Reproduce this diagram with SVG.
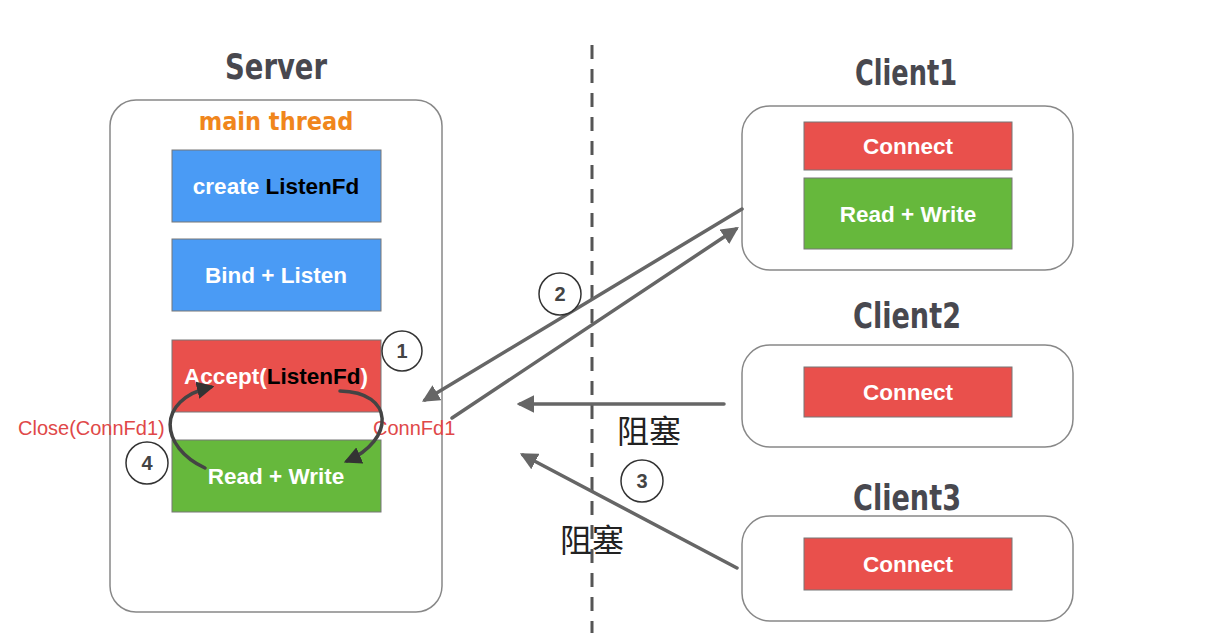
<svg xmlns="http://www.w3.org/2000/svg" width="1209" height="633" viewBox="0 0 1209 633">
<defs>
<marker id="ah" viewBox="0 0 10 10" refX="8" refY="5" markerWidth="5" markerHeight="5" orient="auto"><path d="M0,0 L10,5 L0,10 z" fill="#666"/></marker>
<marker id="ahd" viewBox="0 0 10 10" refX="8" refY="5" markerWidth="5" markerHeight="5" orient="auto"><path d="M0,0 L10,5 L0,10 z" fill="#333"/></marker>
<style>
.frame{fill:#fff;stroke:#888;stroke-width:1.5}
.title{font-family:"DejaVu Sans Condensed","DejaVu Sans",sans-serif;font-weight:bold;font-size:36px;fill:#48484f;text-anchor:middle}
.lbl{font-family:"Liberation Sans",Arial,sans-serif;font-weight:bold;font-size:22.5px;fill:#fff;text-anchor:middle}
.blue{fill:#4a9bf5;stroke:#777;stroke-width:1}
.red{fill:#e9504c;stroke:#777;stroke-width:1}
.green{fill:#66b83c;stroke:#777;stroke-width:1}
.num{fill:#fff;stroke:#333;stroke-width:1.5}
.numt{font-family:"Liberation Sans",Arial,sans-serif;font-weight:bold;font-size:20px;fill:#444;text-anchor:middle}
.conn{fill:none;stroke:#666;stroke-width:3.5;stroke-linecap:round}
.curve{fill:none;stroke:#444;stroke-width:3.5;stroke-linecap:round}
.redt{font-family:"Liberation Sans",Arial,sans-serif;font-size:20px;fill:#e04848}
.cn{font-family:"Noto Sans CJK SC",sans-serif;font-size:32px;fill:#222}
</style>
</defs>
<rect width="1209" height="633" fill="#fff"/>
<line x1="592" y1="45" x2="592" y2="633" stroke="#555" stroke-width="3" stroke-dasharray="14,10"/>

<g id="server">
<rect class="frame" x="110" y="100" width="332" height="512" rx="26"/>
<text class="title" x="276" y="79" textLength="102" lengthAdjust="spacingAndGlyphs">Server</text>
<text x="276" y="130" font-family="DejaVu Sans Condensed,DejaVu Sans,sans-serif" font-weight="bold" font-size="25" fill="#f0861c" text-anchor="middle">main thread</text>
</g>
<g id="create"><rect class="blue" x="172" y="150" width="209" height="72"/><text class="lbl" x="276" y="194">create <tspan fill="#000">ListenFd</tspan></text></g>
<g id="bind"><rect class="blue" x="172" y="239" width="209" height="72"/><text class="lbl" x="276" y="283">Bind + Listen</text></g>
<g id="accept"><rect class="red" x="172" y="340" width="209" height="72"/><text class="lbl" x="276" y="384">Accept(<tspan fill="#000">ListenFd</tspan>)</text></g>
<g id="rw"><rect class="green" x="172" y="440" width="209" height="72"/><text class="lbl" x="276" y="484">Read + Write</text></g>
<g id="n1"><circle class="num" cx="402" cy="351" r="20"/><text class="numt" x="402" y="358">1</text></g>
<g id="n4"><circle class="num" cx="147" cy="463" r="21"/><text class="numt" x="147" y="470">4</text></g>
<text class="redt" x="18" y="435">Close(ConnFd1)</text>
<text class="redt" x="373" y="435">ConnFd1</text>

<g id="client1">
<rect class="frame" x="742" y="106" width="331" height="164" rx="28"/>
<text class="title" x="906" y="85" textLength="102" lengthAdjust="spacingAndGlyphs">Client1</text>
<rect class="red" x="804" y="122" width="208" height="48"/><text class="lbl" x="908" y="154">Connect</text>
<rect class="green" x="804" y="178" width="208" height="71"/><text class="lbl" x="908" y="222">Read + Write</text>
</g>
<g id="client2">
<rect class="frame" x="742" y="345" width="331" height="102" rx="28"/>
<text class="title" x="907" y="328" textLength="108" lengthAdjust="spacingAndGlyphs">Client2</text>
<rect class="red" x="804" y="367" width="208" height="50"/><text class="lbl" x="908" y="400">Connect</text>
</g>
<g id="client3">
<rect class="frame" x="742" y="516" width="331" height="105" rx="28"/>
<text class="title" x="907" y="510" textLength="108" lengthAdjust="spacingAndGlyphs">Client3</text>
<rect class="red" x="804" y="538" width="208" height="52"/><text class="lbl" x="908" y="572">Connect</text>
</g>

<g id="connectors">
<line class="conn" x1="742" y1="209" x2="425" y2="400" marker-end="url(#ah)"/>
<line class="conn" x1="452" y1="418" x2="736" y2="229" marker-end="url(#ah)"/>
<line class="conn" x1="724" y1="404" x2="520" y2="404" marker-end="url(#ah)"/>
<line class="conn" x1="737" y1="568" x2="523" y2="455" marker-end="url(#ah)"/>
<path class="curve" d="M340,391 C395,392 395,440 347,461" marker-end="url(#ahd)"/>
<path class="curve" d="M205,468 C160,447 155,400 211,387" marker-end="url(#ahd)"/>
</g>
<g id="n2"><circle class="num" cx="560" cy="294" r="21"/><text class="numt" x="560" y="301">2</text></g>
<g id="n3"><circle class="num" cx="642" cy="481" r="21"/><text class="numt" x="642" y="488">3</text></g>
<text class="cn" x="617" y="443">阻塞</text>
<text class="cn" x="560" y="552">阻塞</text>
</svg>
